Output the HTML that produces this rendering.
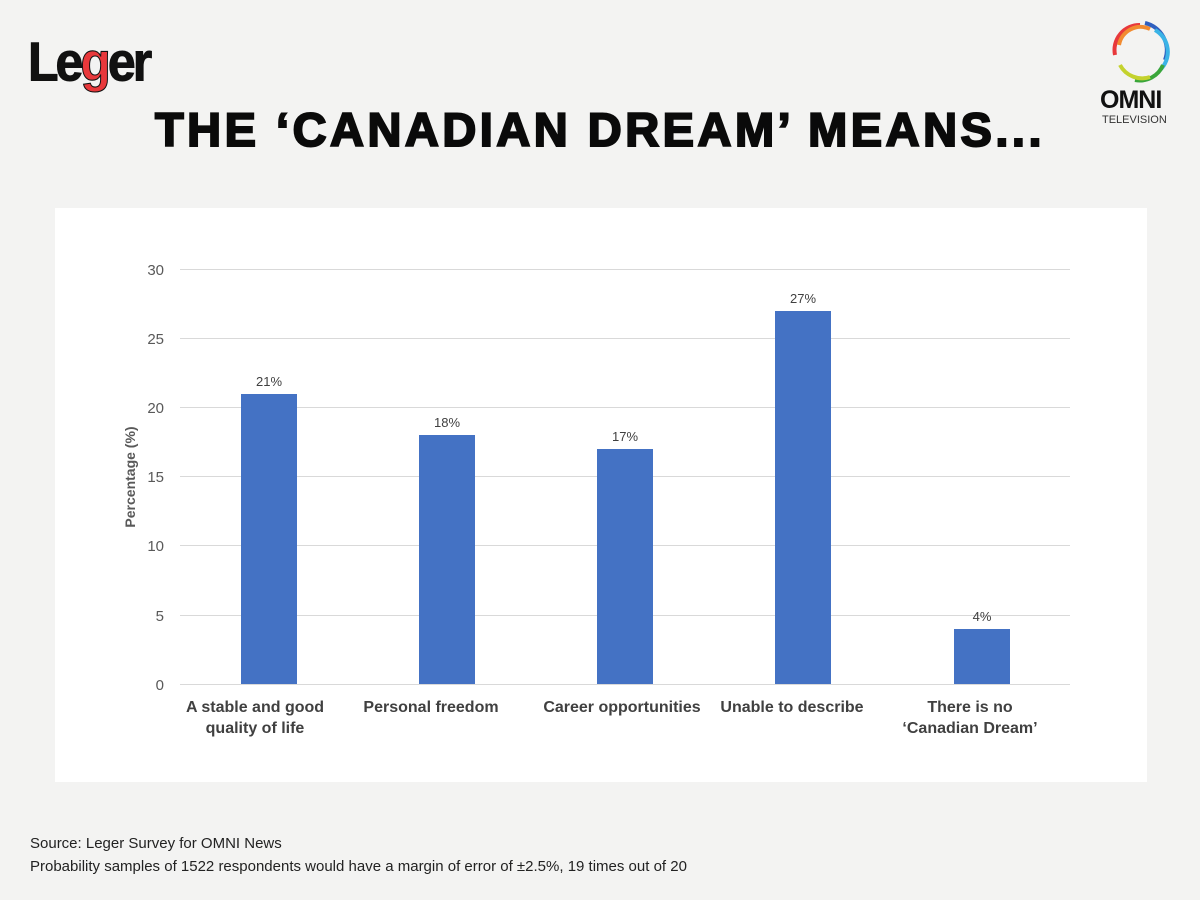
<!DOCTYPE html>
<html><head><style>
body{margin:0;width:1200px;height:900px;background:#f3f3f2;font-family:"Liberation Sans",sans-serif;position:relative;overflow:hidden}
.panel{position:absolute;left:55px;top:208px;width:1092px;height:574px;background:#fff}
.title{position:absolute;left:0;width:1200px;top:102px;text-align:center;font-size:47px;font-weight:900;letter-spacing:3.5px;color:#0a0a0a;-webkit-text-stroke:2px #0a0a0a}
.src{position:absolute;left:30px;top:832px;font-size:15px;color:#222;line-height:23px}
</style></head><body>
<div style="position:absolute;left:28px;top:30px;font-size:50px;font-weight:bold;letter-spacing:-3px;color:#111;-webkit-text-stroke:1px #111;transform:scaleY(1.1);transform-origin:top left">L<span>e</span><span style="color:#e8383b">g</span>er</div>
<svg style="position:absolute;left:1105px;top:15px" width="70" height="70" viewBox="0 0 70 70" fill="none" stroke-width="4">
<path d="M10 40 A25 25 0 0 1 35 10" stroke="#e8383b"/>
<path d="M14 30 A22 22 0 0 1 45 14" stroke="#f28b30"/>
<path d="M40 8 A28 28 0 0 1 60 45" stroke="#2f5fbf"/>
<path d="M50 15 A25 25 0 0 1 55 55" stroke="#3ab3e6"/>
<path d="M58 50 A25 25 0 0 1 30 65" stroke="#3aa63a"/>
<path d="M45 62 A25 25 0 0 1 15 50" stroke="#c4d22e"/>
</svg>
<div style="position:absolute;left:1100px;top:86px;font-size:25px;font-weight:bold;color:#111;letter-spacing:-1px">OMNI</div>
<div style="position:absolute;left:1102px;top:114px;font-size:11px;color:#333">TELEVISION</div>
<div class="title">THE ‘CANADIAN DREAM’ MEANS...</div>
<div class="panel"></div>
<svg style="position:absolute;left:0;top:0" width="1200" height="900" font-family="Liberation Sans, sans-serif">
<g stroke="#d9d9d9" stroke-width="1">
<line x1="180" x2="1070" y1="269.5" y2="269.5"/><line x1="180" x2="1070" y1="338.5" y2="338.5"/>
<line x1="180" x2="1070" y1="407.5" y2="407.5"/><line x1="180" x2="1070" y1="476.5" y2="476.5"/>
<line x1="180" x2="1070" y1="545.5" y2="545.5"/><line x1="180" x2="1070" y1="615.5" y2="615.5"/>
<line x1="180" x2="1070" y1="684.5" y2="684.5"/></g>
<g fill="#595959" font-size="15" text-anchor="end">
<text x="164" y="275">30</text><text x="164" y="344">25</text><text x="164" y="413">20</text>
<text x="164" y="482">15</text><text x="164" y="551">10</text><text x="164" y="621">5</text><text x="164" y="690">0</text></g>
<text transform="translate(135,477) rotate(-90)" text-anchor="middle" font-size="14" font-weight="bold" fill="#595959">Percentage (%)</text>
<g fill="#4472c4">
<rect x="241" y="394" width="56" height="290"/><rect x="419" y="435" width="56" height="249"/>
<rect x="597" y="449" width="56" height="235"/><rect x="775" y="311" width="56" height="373"/>
<rect x="954" y="629" width="56" height="55"/></g>
<g fill="#404040" font-size="13" text-anchor="middle">
<text x="269" y="386">21%</text><text x="447" y="427">18%</text><text x="625" y="441">17%</text>
<text x="803" y="303">27%</text><text x="982" y="621">4%</text></g>
<g fill="#404040" font-size="16" font-weight="bold" text-anchor="middle">
<text x="255" y="712">A stable and good</text><text x="255" y="733">quality of life</text>
<text x="431" y="712">Personal freedom</text>
<text x="622" y="712">Career opportunities</text>
<text x="792" y="712">Unable to describe</text>
<text x="970" y="712">There is no</text><text x="970" y="733">‘Canadian Dream’</text></g>
</svg>
<div class="src">Source: Leger Survey for OMNI News<br>Probability samples of 1522 respondents would have a margin of error of ±2.5%, 19 times out of 20</div>
</body></html>
